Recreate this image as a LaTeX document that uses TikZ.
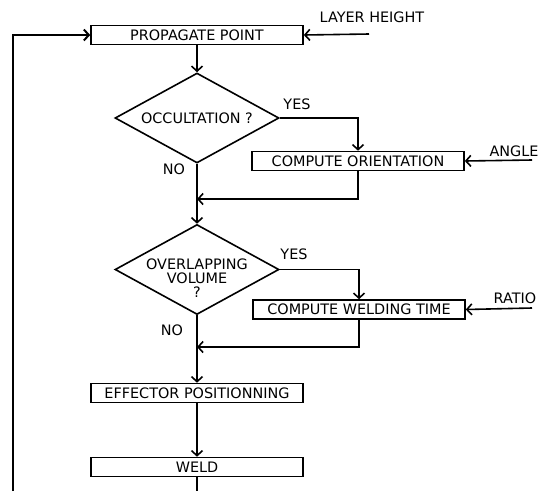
\documentclass[tikz,border=0pt]{standalone}
\usepackage{fontspec}
\setmainfont{DejaVu Sans}
\usetikzlibrary{shapes.geometric,arrows.meta}

\begin{document}
\begin{tikzpicture}[x=1pt, y=-1pt, line width=1.6pt,
    every node/.style={font=\fontsize{14.4}{14}\selectfont},
    >={Straight Barb[length=5pt,width=11pt]},
    procbox/.style={draw, rectangle, minimum width=212pt, minimum height=19pt, inner sep=0pt},
    decision/.style={draw, diamond, aspect=1.82, minimum width=164pt, minimum height=90pt, inner sep=0pt, align=center},
    tag/.style={inner sep=0pt}]
\useasboundingbox (0,0) rectangle (540,491);

% Main chain
\node[procbox] (prop) at (197,35) {PROPAGATE POINT};
\node[decision] (occ) at (197,118) {OCCULTATION ?};
\node[decision, label={[align=center, yshift=-9pt]center:OVERLAPPING\\VOLUME\\?}] (overlap) at (197,269.5) {};
\node[procbox] (eff) at (197,393) {EFFECTOR POSITIONNING};
\node[procbox] (weld) at (197,467) {WELD};

% Side boxes
\node[procbox] (orient) at (358,161) {COMPUTE ORIENTATION};
\node[procbox] (wtime) at (359,309.5) {COMPUTE WELDING TIME};

% Labels
\node[tag] (lh) at (372,17) {LAYER HEIGHT};
\node[tag] (angle) at (514,151) {ANGLE};
\node[tag] (ratio) at (515,298) {RATIO};
\node[tag] (yes1) at (297,104) {YES};
\node[tag] (no1) at (174,169) {NO};
\node[tag] (yes2) at (294,254) {YES};
\node[tag] (no2) at (172,330) {NO};

% Inputs and joins
\coordinate (lhin) at (369,34);
\coordinate (anglein) at (532,160);
\coordinate (ratioin) at (532,308);
\coordinate (join1) at (197,199);
\coordinate (join2) at (197,347);
\coordinate (loopbot) at (13,491);

% Connectors
\draw[->] (prop) -- (occ);
\draw[->] (occ.east) -| (orient.north);
\draw[->] (occ.south) -- (overlap.north);
\draw[->] (orient.south) |- (join1);
\draw[->] (overlap.east) -| (wtime.north);
\draw[->] (overlap.south) -- (eff.north);
\draw[->] (wtime.south) |- (join2);
\draw[->] (eff) -- (weld);
\draw (weld.south) -- (weld.south |- loopbot);
\draw[->, line width=2pt] (loopbot) |- (prop.west);
\draw[->] (lhin) -- (prop.east);
\draw[->] (anglein) -- (orient.east);
\draw[->] (ratioin) -- (wtime.east);
\end{tikzpicture}
\end{document}
